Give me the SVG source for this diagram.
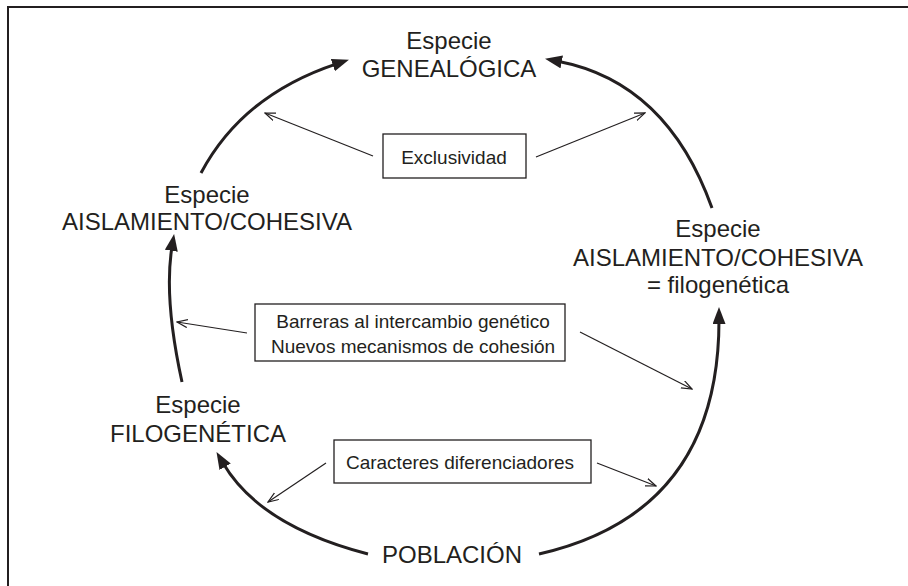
<svg xmlns="http://www.w3.org/2000/svg" width="908" height="586" viewBox="0 0 908 586">
<style>
text{font-family:"Liberation Sans",Arial,sans-serif;fill:#231f20;text-anchor:middle}
.n{font-size:24px}
.b{font-size:19px}
.box{fill:#fff;stroke:#231f20;stroke-width:1.3}
.thick{fill:none;stroke:#231f20;stroke-width:3}
.thin{fill:none;stroke:#231f20;stroke-width:1.2}
</style>
<defs>
<marker id="big" markerUnits="userSpaceOnUse" markerWidth="18" markerHeight="14" refX="4" refY="6.5" orient="auto" viewBox="0 0 18 14">
<path d="M0,0 L17,6.5 L0,13 z" fill="#231f20"/>
</marker>
<marker id="open" markerUnits="userSpaceOnUse" markerWidth="12" markerHeight="10" refX="10.5" refY="4.5" orient="auto" viewBox="0 0 12 10">
<path d="M0,0.5 L10.5,4.5 L0,8.5" fill="none" stroke="#231f20" stroke-width="1.2"/>
</marker>
</defs>
<rect x="8" y="7" width="920" height="600" fill="#fff" stroke="#231f20" stroke-width="2"/>
<g id="connectors">
<path class="thick" d="M201,173 Q242.5,95 336.6,63.8" marker-end="url(#big)"/>
<path class="thick" d="M712,208 Q667,82 557.8,61.2" marker-end="url(#big)"/>
<path class="thick" d="M182,382 Q163.6,297.7 172,246.8" marker-end="url(#big)"/>
<path class="thick" d="M368,554 Q260,526 223.1,463.3" marker-end="url(#big)"/>
<path class="thick" d="M539,554 Q719,513 719,320" marker-end="url(#big)"/>
<line class="thin" x1="373" y1="156" x2="265" y2="113" marker-end="url(#open)"/>
<line class="thin" x1="536" y1="157" x2="645" y2="113" marker-end="url(#open)"/>
<line class="thin" x1="247" y1="333" x2="177" y2="322" marker-end="url(#open)"/>
<line class="thin" x1="580" y1="332" x2="692" y2="389" marker-end="url(#open)"/>
<line class="thin" x1="326" y1="463" x2="268" y2="502" marker-end="url(#open)"/>
<line class="thin" x1="597" y1="463" x2="656" y2="486" marker-end="url(#open)"/>
</g>
<g id="genealogica">
<text class="n" x="449" y="49">Especie</text>
<text class="n" x="449" y="77">GENEALÓGICA</text>
</g>
<g id="aislamiento-izq">
<text class="n" x="207" y="203">Especie</text>
<text class="n" x="207" y="230">AISLAMIENTO/COHESIVA</text>
</g>
<g id="aislamiento-der">
<text class="n" x="718" y="237">Especie</text>
<text class="n" x="718" y="266">AISLAMIENTO/COHESIVA</text>
<text class="n" x="718" y="293">= filogenética</text>
</g>
<g id="filogenetica">
<text class="n" x="198" y="413">Especie</text>
<text class="n" x="198" y="442">FILOGENÉTICA</text>
</g>
<g id="poblacion">
<text class="n" x="452" y="563">POBLACIÓN</text>
</g>
<g id="exclusividad">
<rect class="box" x="383" y="134" width="143" height="44"/>
<text class="b" x="454" y="164">Exclusividad</text>
</g>
<g id="barreras">
<rect class="box" x="255" y="304" width="310" height="57"/>
<text class="b" x="413" y="328">Barreras al intercambio genético</text>
<text class="b" x="413" y="353">Nuevos mecanismos de cohesión</text>
</g>
<g id="caracteres">
<rect class="box" x="334" y="440" width="257" height="43"/>
<text class="b" x="460" y="469">Caracteres diferenciadores</text>
</g>
</svg>
